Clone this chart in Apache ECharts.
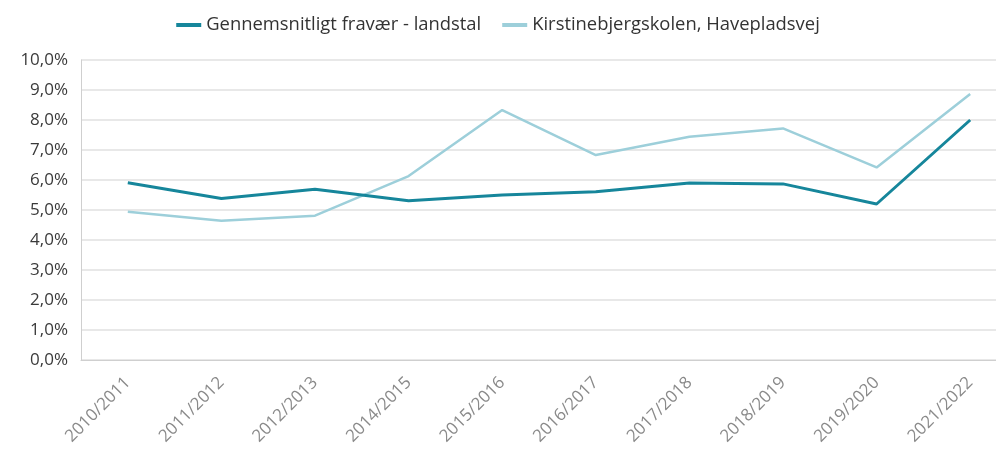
<!DOCTYPE html>
<html>
<head>
<meta charset="utf-8">
<script src="https://cdn.jsdelivr.net/npm/echarts@6/dist/echarts.min.js"></script>
<style>
html,body{margin:0;padding:0;background:#fff;}
#chart{width:996px;height:454px;}
</style>
</head>
<body>
<div id="chart"></div>
<script>
var years = ['2010/2011', '2011/2012', '2012/2013', '2014/2015', '2015/2016', '2016/2017', '2017/2018', '2018/2019', '2019/2020', '2021/2022'];
var landstal = [5.91, 5.38, 5.69, 5.31, 5.5, 5.61, 5.9, 5.87, 5.2, 8.0];
var skole = [4.94, 4.64, 4.81, 6.13, 8.33, 6.83, 7.44, 7.72, 6.42, 8.87];
var names = ['Gennemsnitligt fravær - landstal', 'Kirstinebjergskolen, Havepladsvej'];

var chart = echarts.init(document.getElementById('chart'));
var font = 'Open Sans';
var option = {
  animation: false,
  textStyle: { fontFamily: font },
  legend: {
    top: 11,
    left: 'center',
    icon: 'rect',
    itemWidth: 25,
    itemHeight: 4,
    itemGap: 21,
    textStyle: { fontSize: 18.4, color: '#333', fontFamily: font },
    data: names
  },
  // plot runs past the right edge of the picture, as in the original
  grid: { left: 81, top: 60, width: 936, height: 300, outerBoundsMode: 'none', containLabel: false },
  xAxis: {
    type: 'category',
    data: years,
    axisLine: { lineStyle: { color: '#cfcfcf', width: 1 } },
    axisTick: { alignWithLabel: true, length: 7, lineStyle: { color: '#cfcfcf' } },
    axisLabel: { rotate: 45, color: '#8a8a8a', fontSize: 17, margin: 20, fontFamily: font }
  },
  yAxis: {
    type: 'value',
    min: 0,
    max: 10,
    interval: 1,
    axisLine: { show: true, lineStyle: { color: '#cfcfcf' } },
    axisTick: { show: false },
    axisLabel: {
      color: '#3a3a3a',
      fontSize: 17,
      margin: 13,
      fontFamily: font,
      formatter: function (v) { return v.toFixed(1).replace('.', ',') + '%'; }
    },
    splitLine: { lineStyle: { color: '#e8e8e8', width: 2 } }
  },
  series: [
    {
      name: names[0],
      type: 'line',
      data: landstal,
      showSymbol: false,
      itemStyle: { color: '#16869b' },
      lineStyle: { color: '#16869b', width: 3 },
      z: 3
    },
    {
      name: names[1],
      type: 'line',
      data: skole,
      showSymbol: false,
      itemStyle: { color: '#9dcfda' },
      lineStyle: { color: '#9dcfda', width: 2.5 },
      z: 2
    }
  ]
};
chart.setOption(option);
</script>
</body>
</html>
